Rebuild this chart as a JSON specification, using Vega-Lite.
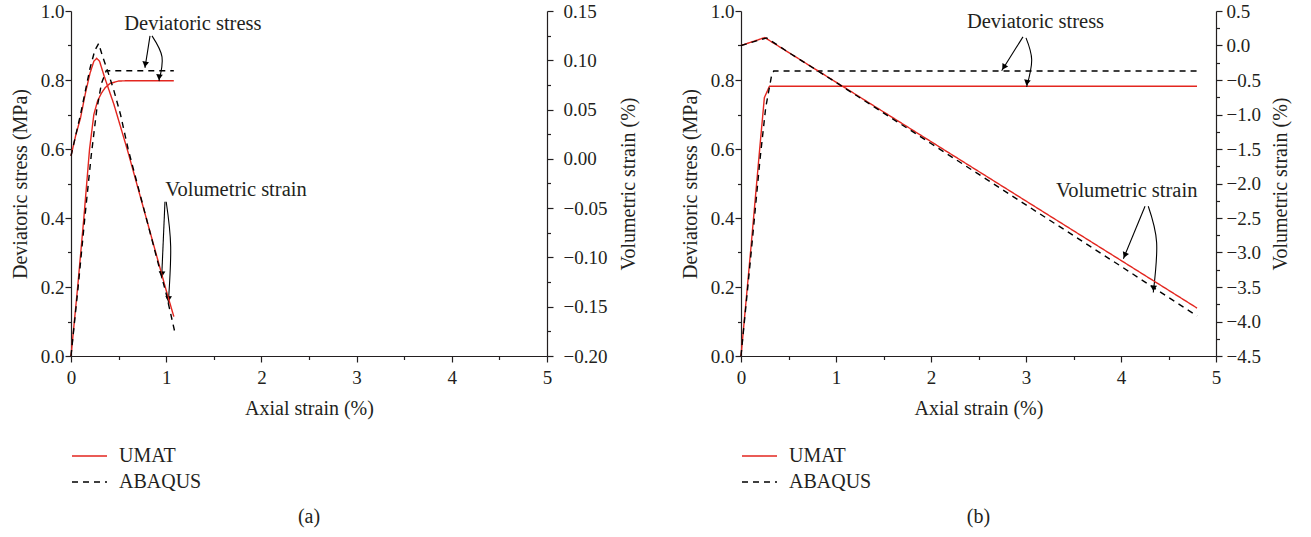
{
  "$schema": "https://vega.github.io/schema/vega-lite/v6.json",
  "padding": {"left": 10, "top": 2, "right": 5, "bottom": 5},
  "background": "white",
  "config": {
    "font": "Liberation Serif",
    "view": {"stroke": null},
    "axis": {"grid": false, "labelFont": "Liberation Serif", "titleFont": "Liberation Serif", "labelFontSize": 19, "titleFontSize": 20, "titleFontWeight": "normal", "labelColor": "#231f20", "titleColor": "#231f20", "domainColor": "#231f20", "tickColor": "#231f20", "domainWidth": 1.2, "tickWidth": 1.2, "labelOverlap": false, "labelFlush": false, "labelBound": false},
    "legend": {"labelFont": "Liberation Serif", "labelFontSize": 20, "labelColor": "#231f20"}
  },
  "datasets": {
    "a_stress": [
      {"x": 0, "y": 0, "model": "UMAT"}, {"x": 0.07, "y": 0.2, "model": "UMAT"}, {"x": 0.135, "y": 0.4, "model": "UMAT"}, {"x": 0.195, "y": 0.6, "model": "UMAT"}, {"x": 0.24, "y": 0.7, "model": "UMAT"}, {"x": 0.28, "y": 0.74, "model": "UMAT"}, {"x": 0.32, "y": 0.762, "model": "UMAT"}, {"x": 0.36, "y": 0.778, "model": "UMAT"}, {"x": 0.41, "y": 0.79, "model": "UMAT"}, {"x": 0.5, "y": 0.797, "model": "UMAT"}, {"x": 0.6, "y": 0.798, "model": "UMAT"}, {"x": 1.08, "y": 0.798, "model": "UMAT"},
      {"x": 0, "y": 0, "model": "ABAQUS"}, {"x": 0.075, "y": 0.2, "model": "ABAQUS"}, {"x": 0.145, "y": 0.4, "model": "ABAQUS"}, {"x": 0.212, "y": 0.58, "model": "ABAQUS"}, {"x": 0.27, "y": 0.713, "model": "ABAQUS"}, {"x": 0.32, "y": 0.79, "model": "ABAQUS"}, {"x": 0.37, "y": 0.827, "model": "ABAQUS"}, {"x": 1.08, "y": 0.827, "model": "ABAQUS"}
    ],
    "a_vol": [
      {"x": 0, "v": 0.003, "model": "UMAT"}, {"x": 0.05, "v": 0.024, "model": "UMAT"}, {"x": 0.1, "v": 0.0415, "model": "UMAT"}, {"x": 0.15, "v": 0.066, "model": "UMAT"}, {"x": 0.2, "v": 0.087, "model": "UMAT"}, {"x": 0.24, "v": 0.099, "model": "UMAT"}, {"x": 0.27, "v": 0.102, "model": "UMAT"}, {"x": 0.3, "v": 0.099, "model": "UMAT"}, {"x": 0.35, "v": 0.0835, "model": "UMAT"}, {"x": 0.45, "v": 0.0555, "model": "UMAT"}, {"x": 0.6, "v": 0.0065, "model": "UMAT"}, {"x": 0.8, "v": -0.0635, "model": "UMAT"}, {"x": 1.0, "v": -0.1335, "model": "UMAT"}, {"x": 1.08, "v": -0.16, "model": "UMAT"},
      {"x": 0, "v": 0.003, "model": "ABAQUS"}, {"x": 0.1, "v": 0.045, "model": "ABAQUS"}, {"x": 0.2, "v": 0.092, "model": "ABAQUS"}, {"x": 0.25, "v": 0.11, "model": "ABAQUS"}, {"x": 0.29, "v": 0.117, "model": "ABAQUS"}, {"x": 0.33, "v": 0.1045, "model": "ABAQUS"}, {"x": 0.38, "v": 0.0905, "model": "ABAQUS"}, {"x": 0.45, "v": 0.0695, "model": "ABAQUS"}, {"x": 0.52, "v": 0.045, "model": "ABAQUS"}, {"x": 0.6, "v": 0.01, "model": "ABAQUS"}, {"x": 0.8, "v": -0.0635, "model": "ABAQUS"}, {"x": 1.0, "v": -0.137, "model": "ABAQUS"}, {"x": 1.09, "v": -0.1755, "model": "ABAQUS"}
    ],
    "a_arrows": [
      {"id": 1, "i": 0, "x": 0.83, "y": 0.928}, {"id": 1, "i": 1, "x": 0.777, "y": 0.835},
      {"id": 2, "i": 0, "x": 0.851, "y": 0.928}, {"id": 2, "i": 1, "x": 0.956, "y": 0.867}, {"id": 2, "i": 2, "x": 0.924, "y": 0.797},
      {"id": 3, "i": 0, "x": 0.987, "y": 0.447}, {"id": 3, "i": 1, "x": 0.952, "y": 0.225},
      {"id": 4, "i": 0, "x": 1.0, "y": 0.447}, {"id": 4, "i": 1, "x": 1.047, "y": 0.317}, {"id": 4, "i": 2, "x": 1.022, "y": 0.153}
    ],
    "a_heads": [
      {"x": 0.78, "y": 0.845, "dir": 9}, {"x": 0.926, "y": 0.808, "dir": 7}, {"x": 0.955, "y": 0.237, "dir": 2}, {"x": 1.024, "y": 0.165, "dir": 3}
    ],
    "a_text": [
      {"x": 1.28, "y": 0.962, "label": "Deviatoric stress"}, {"x": 1.733, "y": 0.481, "label": "Volumetric strain"}
    ],
    "b_stress": [
      {"x": 0, "y": 0, "model": "UMAT"}, {"x": 0.1, "y": 0.3, "model": "UMAT"}, {"x": 0.2, "y": 0.61, "model": "UMAT"}, {"x": 0.246, "y": 0.749, "model": "UMAT"}, {"x": 0.3, "y": 0.782, "model": "UMAT"}, {"x": 4.8, "y": 0.782, "model": "UMAT"},
      {"x": 0, "y": 0, "model": "ABAQUS"}, {"x": 0.1, "y": 0.28, "model": "ABAQUS"}, {"x": 0.2, "y": 0.57, "model": "ABAQUS"}, {"x": 0.26, "y": 0.72, "model": "ABAQUS"}, {"x": 0.32, "y": 0.81, "model": "ABAQUS"}, {"x": 0.345, "y": 0.826, "model": "ABAQUS"}, {"x": 4.8, "y": 0.826, "model": "ABAQUS"}
    ],
    "b_vol": [
      {"x": 0, "v": 0.0, "model": "UMAT"}, {"x": 0.25, "v": 0.115, "model": "UMAT"}, {"x": 0.5, "v": -0.1, "model": "UMAT"}, {"x": 1, "v": -0.531, "model": "UMAT"}, {"x": 2, "v": -1.393, "model": "UMAT"}, {"x": 3, "v": -2.254, "model": "UMAT"}, {"x": 4, "v": -3.115, "model": "UMAT"}, {"x": 4.8, "v": -3.805, "model": "UMAT"},
      {"x": 0, "v": 0.0, "model": "ABAQUS"}, {"x": 0.27, "v": 0.11, "model": "ABAQUS"}, {"x": 0.5, "v": -0.1, "model": "ABAQUS"}, {"x": 1, "v": -0.535, "model": "ABAQUS"}, {"x": 2, "v": -1.42, "model": "ABAQUS"}, {"x": 3, "v": -2.31, "model": "ABAQUS"}, {"x": 4, "v": -3.2, "model": "ABAQUS"}, {"x": 4.8, "v": -3.92, "model": "ABAQUS"}
    ],
    "b_arrows": [
      {"id": 1, "i": 0, "x": 2.968, "y": 0.925}, {"id": 1, "i": 1, "x": 2.744, "y": 0.827},
      {"id": 2, "i": 0, "x": 3.0, "y": 0.922}, {"id": 2, "i": 1, "x": 3.06, "y": 0.858}, {"id": 2, "i": 2, "x": 3.007, "y": 0.78},
      {"id": 3, "i": 0, "x": 4.253, "y": 0.434}, {"id": 3, "i": 1, "x": 4.025, "y": 0.282},
      {"id": 4, "i": 0, "x": 4.287, "y": 0.434}, {"id": 4, "i": 1, "x": 4.375, "y": 0.329}, {"id": 4, "i": 2, "x": 4.34, "y": 0.184}
    ],
    "b_heads": [
      {"x": 2.766, "y": 0.837, "dir": 32}, {"x": 3.01, "y": 0.792, "dir": 10}, {"x": 4.04, "y": 0.292, "dir": 23}, {"x": 4.342, "y": 0.196, "dir": 4}
    ],
    "b_text": [
      {"x": 3.1, "y": 0.968, "label": "Deviatoric stress"}, {"x": 4.06, "y": 0.478, "label": "Volumetric strain"}
    ]
  },
  "hconcat": [
    {
      "width": 476, "height": 345,
      "title": {"text": "(a)", "orient": "bottom", "offset": 12, "fontSize": 20, "fontWeight": "normal", "font": "Liberation Serif", "color": "#231f20"},
      "layer": [
        {
          "encoding": {
            "x": {"field": "x", "type": "quantitative", "scale": {"domain": [0, 5], "nice": false, "zero": false},
              "axis": {"title": "Axial strain (%)", "values": [0, 0.5, 1, 1.5, 2, 2.5, 3, 3.5, 4, 4.5, 5], "labelExpr": "datum.value % 1 == 0 ? format(datum.value, 'd') : ''", "tickSize": {"condition": {"test": "datum.value % 1 != 0", "value": 3.5}, "value": 6}, "labelPadding": 6, "titlePadding": 11}},
            "y": {"field": "y", "type": "quantitative", "scale": {"domain": [0, 1], "nice": false},
              "axis": {"title": "Deviatoric stress (MPa)", "values": [0, 0.1, 0.2, 0.3, 0.4, 0.5, 0.6, 0.7, 0.8, 0.9, 1.0], "labelExpr": "round(datum.value*10) % 2 == 0 ? format(datum.value, '.1f') : ''", "tickSize": {"condition": {"test": "round(datum.value*10) % 2 != 0", "value": 3.5}, "value": 6}, "labelPadding": 1, "titlePadding": 10}}
          },
          "layer": [
            {"data": {"name": "a_stress"}, "mark": {"type": "line", "strokeWidth": 1.4},
              "encoding": {
                "color": {"field": "model", "type": "nominal", "scale": {"domain": ["UMAT", "ABAQUS"], "range": ["#e3261f", "#000000"]}, "legend": {"title": null, "orient": "none", "legendX": 0, "legendY": 432, "symbolType": "stroke", "symbolSize": 1225, "symbolStrokeWidth": 1.4, "clipHeight": 26, "rowPadding": 0, "labelOffset": 11, "padding": 0}},
                "strokeDash": {"field": "model", "type": "nominal", "scale": {"domain": ["UMAT", "ABAQUS"], "range": [[1, 0], [6, 5]]}, "legend": {"title": null, "orient": "none", "legendX": 0, "legendY": 432, "symbolType": "stroke", "symbolSize": 1225, "symbolStrokeWidth": 1.4, "clipHeight": 26, "rowPadding": 0, "labelOffset": 11, "padding": 0}}
              }},
            {"data": {"name": "a_arrows"}, "mark": {"type": "line", "color": "#000000", "strokeWidth": 1.1, "interpolate": "natural"},
              "encoding": {"detail": {"field": "id", "type": "nominal"}, "order": {"field": "i", "type": "quantitative"}}},
            {"data": {"name": "a_heads"}, "mark": {"type": "point", "shape": "triangle-down", "filled": true, "color": "#000000", "size": 45, "opacity": 1},
              "encoding": {"angle": {"field": "dir", "type": "quantitative", "scale": {"domain": [0, 360], "range": [0, 360]}}}},
            {"data": {"name": "a_text"}, "mark": {"type": "text", "fontSize": 20.5, "font": "Liberation Serif", "color": "#231f20"},
              "encoding": {"text": {"field": "label", "type": "nominal"}}}
          ]
        },
        {
          "data": {"name": "a_vol"},
          "mark": {"type": "line", "strokeWidth": 1.4},
          "encoding": {
            "x": {"field": "x", "type": "quantitative", "scale": {"domain": [0, 5], "nice": false, "zero": false},
              "axis": {"title": "Axial strain (%)", "values": [0, 0.5, 1, 1.5, 2, 2.5, 3, 3.5, 4, 4.5, 5], "labelExpr": "datum.value % 1 == 0 ? format(datum.value, 'd') : ''", "tickSize": {"condition": {"test": "datum.value % 1 != 0", "value": 3.5}, "value": 6}, "labelPadding": 6, "titlePadding": 11}},
            "y": {"field": "v", "type": "quantitative", "scale": {"domain": [-0.2, 0.15], "nice": false, "zero": false},
              "axis": {"orient": "right", "title": "Volumetric strain (%)", "titleAngle": 270, "titleBaseline": "top", "values": [-0.2, -0.175, -0.15, -0.125, -0.1, -0.075, -0.05, -0.025, 0, 0.025, 0.05, 0.075, 0.1, 0.125, 0.15], "labelExpr": "round(datum.value*40) % 2 == 0 ? format(datum.value, '.2f') : ''", "tickSize": {"condition": {"test": "round(datum.value*40) % 2 != 0", "value": 3.5}, "value": 6}, "labelPadding": 10, "titlePadding": 12}},
            "color": {"field": "model", "type": "nominal", "scale": {"domain": ["UMAT", "ABAQUS"], "range": ["#e3261f", "#000000"]}, "legend": {"title": null, "orient": "none", "legendX": 0, "legendY": 432, "symbolType": "stroke", "symbolSize": 1225, "symbolStrokeWidth": 1.4, "clipHeight": 26, "rowPadding": 0, "labelOffset": 11, "padding": 0}},
            "strokeDash": {"field": "model", "type": "nominal", "scale": {"domain": ["UMAT", "ABAQUS"], "range": [[1, 0], [6, 5]]}, "legend": {"title": null, "orient": "none", "legendX": 0, "legendY": 432, "symbolType": "stroke", "symbolSize": 1225, "symbolStrokeWidth": 1.4, "clipHeight": 26, "rowPadding": 0, "labelOffset": 11, "padding": 0}}
          }
        }
      ],
      "resolve": {"scale": {"y": "independent"}}
    },
    {
      "width": 475, "height": 345,
      "title": {"text": "(b)", "orient": "bottom", "offset": 12, "fontSize": 20, "fontWeight": "normal", "font": "Liberation Serif", "color": "#231f20"},
      "layer": [
        {
          "encoding": {
            "x": {"field": "x", "type": "quantitative", "scale": {"domain": [0, 5], "nice": false, "zero": false},
              "axis": {"title": "Axial strain (%)", "values": [0, 0.5, 1, 1.5, 2, 2.5, 3, 3.5, 4, 4.5, 5], "labelExpr": "datum.value % 1 == 0 ? format(datum.value, 'd') : ''", "tickSize": {"condition": {"test": "datum.value % 1 != 0", "value": 3.5}, "value": 6}, "labelPadding": 6, "titlePadding": 11}},
            "y": {"field": "y", "type": "quantitative", "scale": {"domain": [0, 1], "nice": false},
              "axis": {"title": "Deviatoric stress (MPa)", "values": [0, 0.1, 0.2, 0.3, 0.4, 0.5, 0.6, 0.7, 0.8, 0.9, 1.0], "labelExpr": "round(datum.value*10) % 2 == 0 ? format(datum.value, '.1f') : ''", "tickSize": {"condition": {"test": "round(datum.value*10) % 2 != 0", "value": 3.5}, "value": 6}, "labelPadding": 1, "titlePadding": 10}}
          },
          "layer": [
            {"data": {"name": "b_stress"}, "mark": {"type": "line", "strokeWidth": 1.4},
              "encoding": {
                "color": {"field": "model", "type": "nominal", "scale": {"domain": ["UMAT", "ABAQUS"], "range": ["#e3261f", "#000000"]}, "legend": {"title": null, "orient": "none", "legendX": 0, "legendY": 432, "symbolType": "stroke", "symbolSize": 1225, "symbolStrokeWidth": 1.4, "clipHeight": 26, "rowPadding": 0, "labelOffset": 11, "padding": 0}},
                "strokeDash": {"field": "model", "type": "nominal", "scale": {"domain": ["UMAT", "ABAQUS"], "range": [[1, 0], [6, 5]]}, "legend": {"title": null, "orient": "none", "legendX": 0, "legendY": 432, "symbolType": "stroke", "symbolSize": 1225, "symbolStrokeWidth": 1.4, "clipHeight": 26, "rowPadding": 0, "labelOffset": 11, "padding": 0}}
              }},
            {"data": {"name": "b_arrows"}, "mark": {"type": "line", "color": "#000000", "strokeWidth": 1.1, "interpolate": "natural"},
              "encoding": {"detail": {"field": "id", "type": "nominal"}, "order": {"field": "i", "type": "quantitative"}}},
            {"data": {"name": "b_heads"}, "mark": {"type": "point", "shape": "triangle-down", "filled": true, "color": "#000000", "size": 45, "opacity": 1},
              "encoding": {"angle": {"field": "dir", "type": "quantitative", "scale": {"domain": [0, 360], "range": [0, 360]}}}},
            {"data": {"name": "b_text"}, "mark": {"type": "text", "fontSize": 20.5, "font": "Liberation Serif", "color": "#231f20"},
              "encoding": {"text": {"field": "label", "type": "nominal"}}}
          ]
        },
        {
          "data": {"name": "b_vol"},
          "mark": {"type": "line", "strokeWidth": 1.4},
          "encoding": {
            "x": {"field": "x", "type": "quantitative", "scale": {"domain": [0, 5], "nice": false, "zero": false},
              "axis": {"title": "Axial strain (%)", "values": [0, 0.5, 1, 1.5, 2, 2.5, 3, 3.5, 4, 4.5, 5], "labelExpr": "datum.value % 1 == 0 ? format(datum.value, 'd') : ''", "tickSize": {"condition": {"test": "datum.value % 1 != 0", "value": 3.5}, "value": 6}, "labelPadding": 6, "titlePadding": 11}},
            "y": {"field": "v", "type": "quantitative", "scale": {"domain": [-4.5, 0.5], "nice": false, "zero": false},
              "axis": {"orient": "right", "title": "Volumetric strain (%)", "titleAngle": 270, "titleBaseline": "top", "values": [-4.5, -4.25, -4, -3.75, -3.5, -3.25, -3, -2.75, -2.5, -2.25, -2, -1.75, -1.5, -1.25, -1, -0.75, -0.5, -0.25, 0, 0.25, 0.5], "labelExpr": "round(datum.value*4) % 2 == 0 ? format(datum.value, '.1f') : ''", "tickSize": {"condition": {"test": "round(datum.value*4) % 2 != 0", "value": 3.5}, "value": 6}, "labelPadding": 4, "titlePadding": 10}},
            "color": {"field": "model", "type": "nominal", "scale": {"domain": ["UMAT", "ABAQUS"], "range": ["#e3261f", "#000000"]}, "legend": {"title": null, "orient": "none", "legendX": 0, "legendY": 432, "symbolType": "stroke", "symbolSize": 1225, "symbolStrokeWidth": 1.4, "clipHeight": 26, "rowPadding": 0, "labelOffset": 11, "padding": 0}},
            "strokeDash": {"field": "model", "type": "nominal", "scale": {"domain": ["UMAT", "ABAQUS"], "range": [[1, 0], [6, 5]]}, "legend": {"title": null, "orient": "none", "legendX": 0, "legendY": 432, "symbolType": "stroke", "symbolSize": 1225, "symbolStrokeWidth": 1.4, "clipHeight": 26, "rowPadding": 0, "labelOffset": 11, "padding": 0}}
          }
        }
      ],
      "resolve": {"scale": {"y": "independent"}}
    }
  ],
  "spacing": 194,
  "bounds": "flush",
  "resolve": {"scale": {"color": "independent", "strokeDash": "independent"}}
}
